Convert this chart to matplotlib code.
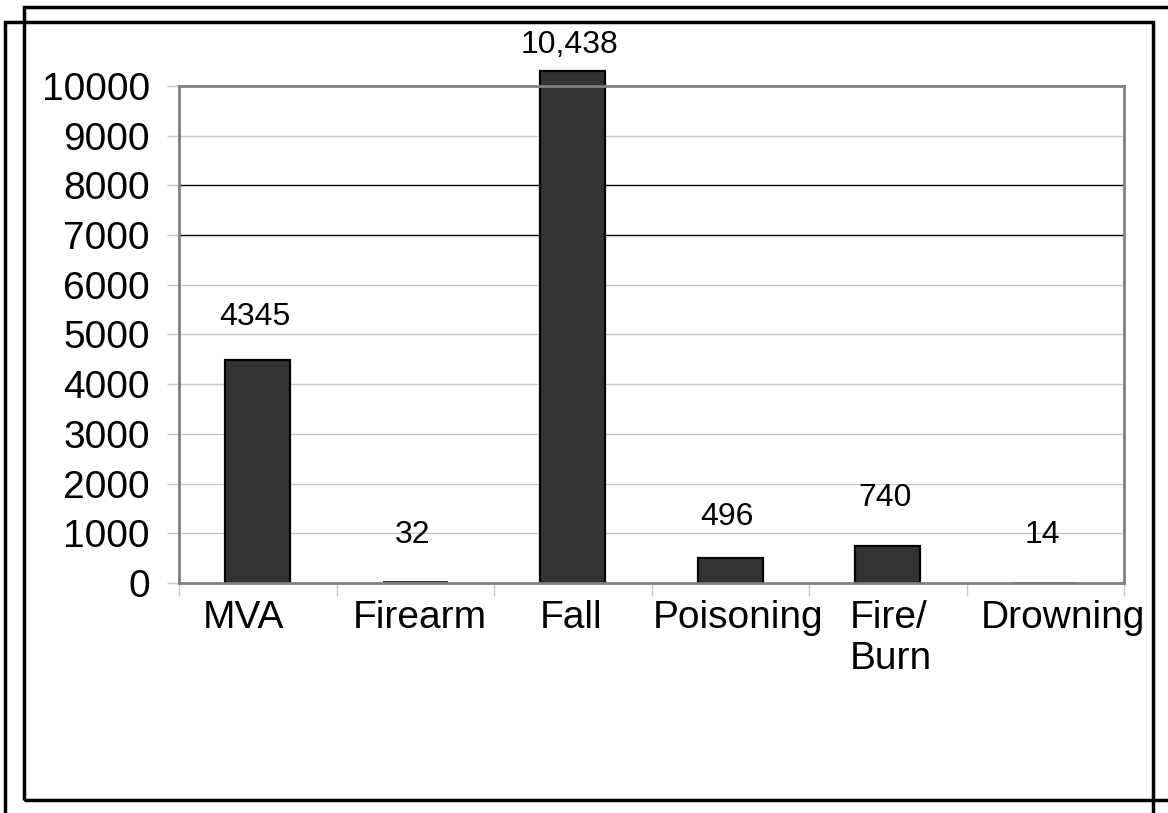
import matplotlib
matplotlib.use("Agg")
import matplotlib.pyplot as plt
from matplotlib.patches import Rectangle
from matplotlib.transforms import ScaledTranslation

plt.rcParams["font.family"] = ["Liberation Sans", "DejaVu Sans"]

# Data
categories = ["MVA", "Firearm", "Fall", "Poisoning", "Fire/\nBurn", "Drowning"]
bar_heights = [4490, 32, 10300, 500, 745, 14]
value_labels = ["4345", "32", "10,438", "496", "740", "14"]
y_ticks = list(range(0, 10001, 1000))

# where the value labels sit (data units, they were placed by hand)
label_y = [5350, 966, 10825, 1338, 1710, 956]
# small horizontal nudges of the category labels, in pixels
tick_shift = [-14, 5, -2, 8, 3, 18]

W, H = 1168, 813
fig = plt.figure(figsize=(W / 100, H / 100), dpi=100)


def fx(px):
    return px / W


def fy(py):
    return 1 - py / H


# two offset frames around the chart
fig.add_artist(Rectangle((fx(24), fy(800)), fx(1300) - fx(24), fy(7) - fy(800),
                         transform=fig.transFigure, fill=False,
                         edgecolor="black", linewidth=2.5))
fig.add_artist(Rectangle((fx(5), fy(900)), fx(1153) - fx(5), fy(22) - fy(900),
                         transform=fig.transFigure, fill=False,
                         edgecolor="black", linewidth=2.5))

ax = fig.add_axes([fx(179), fy(583), fx(1124) - fx(179), fy(86) - fy(583)])

x = list(range(len(categories)))
# the two tiny bars vanish under the axis line in the original
edge_w = [1.6 if h > 100 else 0 for h in bar_heights]
ax.bar(x, bar_heights, width=0.41, color="#333333", edgecolor="black",
       linewidth=edge_w, zorder=3, clip_on=False)

for xi, txt, ly in zip(x, value_labels, label_y):
    ax.text(xi - 0.02, ly, txt, ha="center", va="center", fontsize=23, zorder=4)

ax.set_xlim(-0.5, len(categories) - 0.5)
ax.set_ylim(0, 10000)

# gridlines (7000 and 8000 are black in the original)
for v in y_ticks:
    col = "black" if v in (7000, 8000) else "#c8c8c8"
    ax.axhline(v, color=col, linewidth=1.0, zorder=1)

ax.set_yticks(y_ticks)
ax.set_yticklabels([str(v) for v in y_ticks], fontsize=28)
ax.tick_params(axis="y", length=9, width=1.0, color="#c8c8c8", pad=12)
for t, v in zip(ax.yaxis.get_major_ticks(), y_ticks):
    if v in (7000, 8000):
        t.tick1line.set_color("black")

ax.set_xticks(x)
ax.set_xticklabels(categories, fontsize=28)
ax.tick_params(axis="x", which="major", length=0, pad=12)
for lab, dx in zip(ax.get_xticklabels(), tick_shift):
    lab.set_multialignment("left")
    lab.set_transform(lab.get_transform() + ScaledTranslation(dx / 100, 0, fig.dpi_scale_trans))

bounds = [i - 0.5 for i in range(len(categories) + 1)]
ax.set_xticks(bounds, minor=True)
ax.tick_params(axis="x", which="minor", length=9, width=1.0, color="#c8c8c8")
for t, b in zip(ax.xaxis.get_minor_ticks(), bounds):
    if b == 4.5:
        t.tick1line.set_color("black")

for s in ax.spines.values():
    s.set_color("#808080")
    s.set_linewidth(2)
    s.set_zorder(5)

plt.savefig("out.png", dpi=100)
